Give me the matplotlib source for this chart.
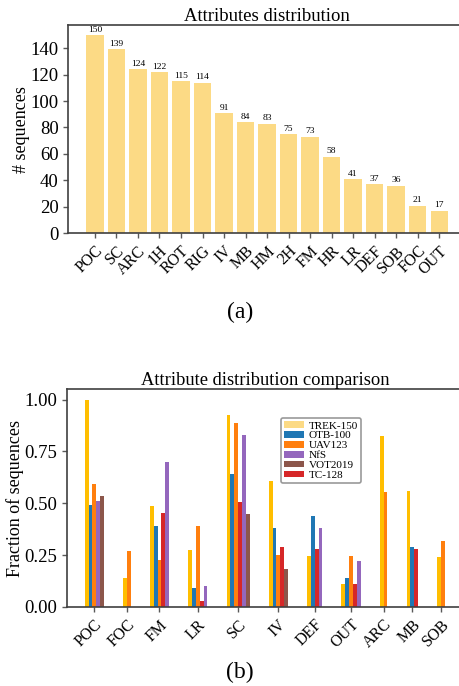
import matplotlib
matplotlib.use("Agg")
import matplotlib.pyplot as plt
from matplotlib.patches import Patch
import numpy as np

plt.rcParams['font.family'] = ['Liberation Serif', 'DejaVu Serif']

# Per-attribute sequence counts (TREK-150)
attr_names = ["POC", "SC", "ARC", "1H", "ROT", "RIG", "IV", "MB", "HM", "2H",
              "FM", "HR", "LR", "DEF", "SOB", "FOC", "OUT"]
attr_counts = [150, 139, 124, 122, 115, 114, 91, 84, 83, 75, 73, 58, 41, 37, 36, 21, 17]

# Fraction of sequences per attribute for each benchmark (None = attribute not annotated)
cmp_attrs = ["POC", "FOC", "FM", "LR", "SC", "IV", "DEF", "OUT", "ARC", "MB", "SOB"]
trek150 = [1.000, 0.140, 0.487, 0.273, 0.927, 0.607, 0.247, 0.113, 0.827, 0.560, 0.240]
otb100  = [0.49, None, 0.39, 0.09, 0.64, 0.38, 0.44, 0.14, None, 0.29, None]
uav123  = [0.593, 0.268, 0.228, 0.390, 0.886, 0.252, None, 0.244, 0.553, None, 0.317]
tc128   = [None, None, 0.453, 0.031, 0.508, 0.289, 0.281, 0.109, None, 0.281, None]
nfs     = [0.51, None, 0.70, 0.10, 0.83, None, 0.38, 0.22, None, None, None]
vot2019 = [0.533, None, None, None, 0.450, 0.183, None, None, None, None, None]

light_gold = "#FCDA85"
bar_series = [
    (trek150, "#FFBE00"),
    (otb100, "tab:blue"),
    (uav123, "tab:orange"),
    (tc128, "tab:red"),
    (nfs, "tab:purple"),
    (vot2019, "tab:brown"),
]
legend_items = [
    ("TREK-150", light_gold),
    ("OTB-100", "tab:blue"),
    ("UAV123", "tab:orange"),
    ("NfS", "tab:purple"),
    ("VOT2019", "tab:brown"),
    ("TC-128", "tab:red"),
]


def style_axes(ax):
    for side in ["left", "bottom", "top"]:
        ax.spines[side].set_color("0.25")
        ax.spines[side].set_linewidth(1.2)
    ax.spines["right"].set_visible(False)
    ax.tick_params(axis="both", direction="out", length=3.5, width=1.0, color="0.35")
    ax.tick_params(axis="y", labelsize=13.5)
    ax.tick_params(axis="x", labelsize=11.5)


fig = plt.figure(figsize=(4.59, 6.86), dpi=100)

# (a) attribute histogram
ax1 = fig.add_axes([0.1488, 0.6599, 0.866, 0.3037])
x1 = np.arange(len(attr_names))
bars = ax1.bar(x1, attr_counts, width=0.8, color=light_gold)
ax1.bar_label(bars, labels=[str(c) for c in attr_counts], fontsize=6.8, padding=1)
ax1.set_xticks(x1)
ax1.set_xticklabels(attr_names, rotation=45, ha="right", rotation_mode="anchor")
ax1.set_yticks(np.arange(0, 141, 20))
ax1.set_ylabel("# sequences", fontsize=13, labelpad=0)
ax1.set_title("Attributes distribution", fontsize=13.5, pad=3)
style_axes(ax1)

# (b) comparison across benchmarks, groups packed from the bars present
ax2 = fig.add_axes([0.1453, 0.1152, 0.8634, 0.3173])
gap = 5.0
start = 0.0
centers = []
for i in range(len(cmp_attrs)):
    present = [(vals[i], col) for vals, col in bar_series if vals[i] is not None]
    for k, (v, col) in enumerate(present):
        ax2.bar(start + k + 0.5, v, width=1.0, color=col)
    centers.append(start + len(present) / 2)
    start += len(present) + gap
ax2.set_xticks(centers)
ax2.set_xticklabels(cmp_attrs, rotation=45, ha="right", rotation_mode="anchor")
ax2.set_yticks([0.0, 0.25, 0.5, 0.75, 1.0])
ax2.set_yticklabels(["0.00", "0.25", "0.50", "0.75", "1.00"])
ax2.set_ylabel("Fraction of sequences", fontsize=13, labelpad=0)
ax2.set_title("Attribute distribution comparison", fontsize=13.3, pad=3)
style_axes(ax2)

handles = [Patch(facecolor=c, label=l) for l, c in legend_items]
leg = ax2.legend(handles=handles, loc="upper left", bbox_to_anchor=(0.541, 0.868),
                 borderaxespad=0, fontsize=8, handlelength=1.8, handleheight=0.55,
                 labelspacing=0.05, borderpad=0.3, handletextpad=0.4,
                 fancybox=True, framealpha=1)
leg.get_frame().set_edgecolor("0.6")
leg.get_frame().set_linewidth(1.2)

fig.text(0.523, 0.545, "(a)", fontsize=17, ha="center", va="center")
fig.text(0.523, 0.0204, "(b)", fontsize=17, ha="center", va="center")

fig.savefig("out.png", dpi=100)
